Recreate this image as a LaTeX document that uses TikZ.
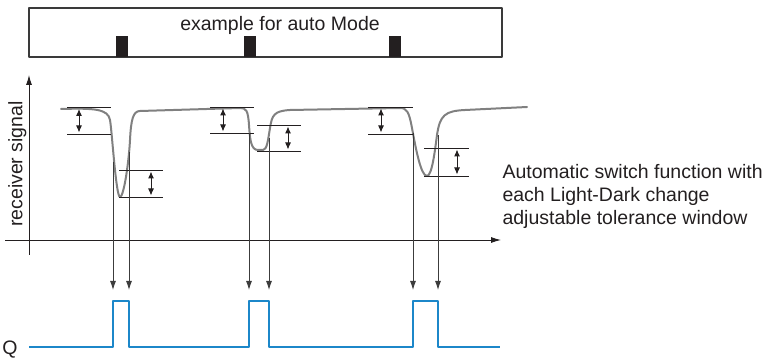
\documentclass[tikz,border=0pt]{standalone}
\usepackage{fontspec}
\setsansfont{Liberation Sans}
\usepackage{tikz}
\usetikzlibrary{arrows.meta}
\definecolor{sgInk}{HTML}{231F20}
\definecolor{sgCurve}{HTML}{808080}
\definecolor{sgFrame}{HTML}{3A3A3A}
\definecolor{sgLine}{HTML}{3C3C3C}
\definecolor{sgOut}{HTML}{1C87C9}
\tikzset{
  sg diagram/.style={font=\sffamily\fontsize{19.5}{23.3}\selectfont, text=sgInk,
    line join=round},
  sg frame/.style={draw=sgFrame, line width=1.4pt},
  sg bar/.style={fill=sgInk},
  sg axis/.style={-{Latex[length=10pt,width=6pt]}, draw=sgInk, line width=0.9pt},
  sg curve/.style={draw=sgCurve, line width=2pt, line cap=round},
  sg limit/.style={draw=sgInk, line width=0.9pt},
  sg window/.style={{Latex[length=7pt,width=6pt]}-{Latex[length=7pt,width=6pt]},
    draw=sgInk, line width=1pt},
  sg arrow/.style={-{Latex[length=9pt,width=6pt]}, draw=sgLine, line width=0.9pt},
  sg output/.style={draw=sgOut, line width=2pt}
}
\begin{document}
\begin{tikzpicture}[sg diagram, x=1pt, y=-1pt]
\useasboundingbox (0,0) rectangle (769,358);
% light/dark strip
\draw[sg frame] (29,8) rectangle (502,57);
\node[anchor=base] (mode) at (280,30.5) {example for auto Mode};
\foreach \x in {116,244,389}
  \fill[sg bar] (\x,36) rectangle ++(12,21);
% axes
\draw[sg axis] (29,255) -- (29,75);
\draw[sg axis] (5,240) -- (501,240);
\node[rotate=90, anchor=base] (ylabel) at (22.5,164) {receiver signal};
% receiver signal
\draw[sg curve] (61,109) .. controls (95,108) and (108,109) .. (110,120)
  .. controls (112,131) and (116,197) .. (120,197)
  .. controls (124,197) and (129,160) .. (130,140)
  .. controls (131,120) and (133,111) .. (140,111) -- (240,108)
  .. controls (246,108) and (248,110) .. (249,125)
  .. controls (250,140) and (251,150) .. (258,150) -- (263,150)
  .. controls (267,150) and (268,140) .. (270,128)
  .. controls (272,115) and (274,111) .. (290,110) -- (400,108)
  .. controls (407,108) and (409,112) .. (412,128)
  .. controls (416,150) and (421,176) .. (427,176)
  .. controls (432,176) and (435,150) .. (437,135)
  .. controls (440,115) and (445,111) .. (465,110) -- (527,107);
% tolerance windows
\foreach \x/\a/\b/\l/\r in {79/107.5/134/67/111, 151/170/197/119/163,
    223/107/133/210/254, 288/125/151/257/301,
    381/107/134/368/413, 457/148/176/424/469}{
  \draw[sg limit] (\l,\a) -- (\r,\a) (\l,\b) -- (\r,\b);
  \draw[sg window] (\x,\a+1.5) -- (\x,\b-1.5);
}
% switching points
\foreach \n/\x/\y in {1/113/162, 2/129/152, 3/249/133, 4/269/138, 5/413/133, 6/438/135}{
  \coordinate (hit\n) at (\x,\y);
  \coordinate (edge\n) at (\x,290);
  \draw[sg arrow] (hit\n) -- (edge\n);
}
% output
\draw[sg output] (29,347) -| (113,301) -| (129,347) -| (249,301) -| (269,347)
  -| (413,301) -| (438,347) -- (500,347);
\node[anchor=base east] (qlabel) at (21,354) {Q};
\foreach \i/\t in {0/{Automatic switch function with}, 1/{each Light-Dark change},
    2/{adjustable tolerance window}}
  \node[anchor=base west] (note\i) at (499,178.3+23.35*\i) {\t};
\end{tikzpicture}
\end{document}
